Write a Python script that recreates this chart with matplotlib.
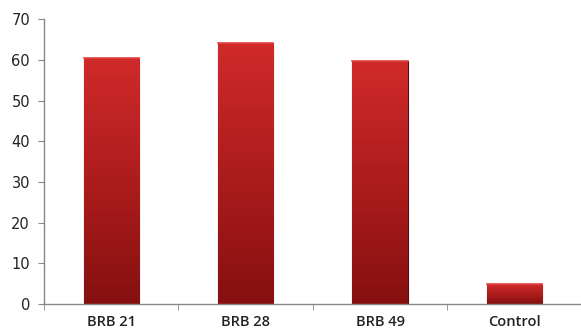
import matplotlib
matplotlib.use("Agg")
import matplotlib.pyplot as plt
import numpy as np
from matplotlib.colors import LinearSegmentedColormap

categories = ["BRB 21", "BRB 28", "BRB 49", "Control"]
values = [60.4, 64.2, 59.7, 4.9]
yticks = [0, 10, 20, 30, 40, 50, 60, 70]

fig = plt.figure(figsize=(5.81, 3.30), dpi=100)
ax = fig.add_axes([0.0757, 0.0788, 0.93, 0.863])

x = np.arange(len(categories))
bars = ax.bar(x, values, width=0.41, color="#b81e1e", edgecolor="#5a0a0a", linewidth=0.8, zorder=2)

cmap = LinearSegmentedColormap.from_list("redgrad", ["#861010", "#ad1c1c", "#d02a2a"])
grad = np.linspace(0, 1, 256).reshape(-1, 1)
for b in bars:
    x0, y0 = b.get_x(), b.get_y()
    w, h = b.get_width(), b.get_height()
    im = ax.imshow(grad, extent=[x0, x0 + w, y0, y0 + h], origin="lower",
                   cmap=cmap, aspect="auto", zorder=2.5)
    im.set_clip_path(b)
    ax.plot([x0, x0 + w], [y0 + h, y0 + h], color="#e04545", lw=1.2, zorder=3)

ax.set_xlim(-0.5, len(categories) - 0.5 + 0.02)
ax.set_ylim(0, 70)
ax.set_yticks(yticks)
ax.set_yticklabels([str(t) for t in yticks], fontsize=10.5, family="DejaVu Sans", color="#222222")
ax.set_xticks(x)
ax.set_xticklabels(categories, fontsize=10.5, fontweight="semibold", family="Open Sans", color="#222222")
ax.tick_params(axis="x", length=0, pad=8)
ax.set_xticks(np.arange(len(categories) + 1) - 0.5, minor=True)
ax.tick_params(axis="x", which="minor", length=4, color="#888888", direction="out")
ax.tick_params(axis="y", length=4, color="#888888", direction="out", pad=6)

for s in ["top", "right"]:
    ax.spines[s].set_visible(False)
for s in ["left", "bottom"]:
    ax.spines[s].set_color("#888888")
    ax.spines[s].set_linewidth(1)

fig.savefig("out.png", dpi=100)
